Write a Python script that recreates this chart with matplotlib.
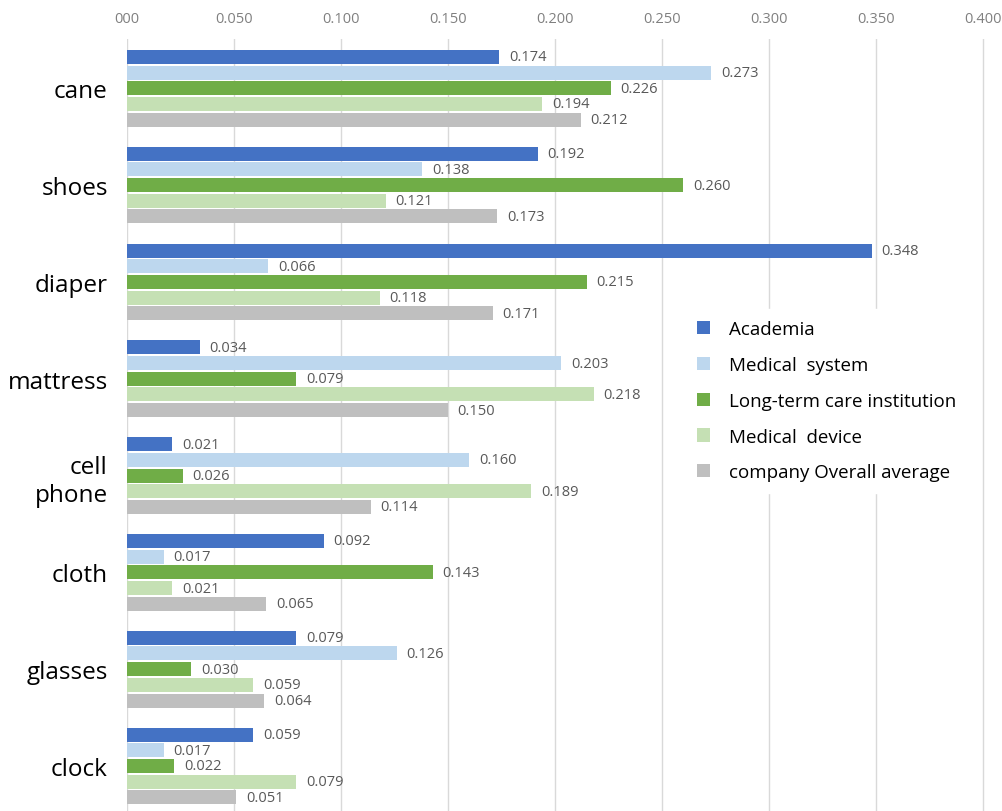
import numpy as np
import matplotlib.pyplot as plt

plt.rcParams['font.family'] = ['Open Sans', 'DejaVu Sans']

categories = ['cane', 'shoes', 'diaper', 'mattress', 'cell\nphone', 'cloth', 'glasses', 'clock']
series = ['Academia', 'Medical  system', 'Long-term care institution',
          'Medical  device', 'company Overall average']
academia = [0.174, 0.192, 0.348, 0.034, 0.021, 0.092, 0.079, 0.059]
medical_system = [0.273, 0.138, 0.066, 0.203, 0.160, 0.017, 0.126, 0.017]
long_term_care = [0.226, 0.260, 0.215, 0.079, 0.026, 0.143, 0.030, 0.022]
medical_device = [0.194, 0.121, 0.118, 0.218, 0.189, 0.021, 0.059, 0.079]
overall_avg = [0.212, 0.173, 0.171, 0.150, 0.114, 0.065, 0.064, 0.051]
tick_vals = [0.0, 0.05, 0.1, 0.15, 0.2, 0.25, 0.3, 0.35, 0.4]
tick_labels = ['000', '0.050', '0.100', '0.150', '0.200', '0.250', '0.300', '0.350', '0.400']

colors = ['#4472C4', '#BDD7EE', '#70AD47', '#C5E0B4', '#BFBFBF']
values = [academia, medical_system, long_term_care, medical_device, overall_avg]

fig = plt.figure(figsize=(10.02, 8.12), dpi=100)
ax = fig.add_axes([0.127, 0.0, 0.873, 0.951])

y = np.arange(len(categories))
step = 0.162
height = 0.145
for j, (vals, col, name) in enumerate(zip(values, colors, series)):
    pos = y + (j - 2) * step
    ax.barh(pos, vals, height=height, color=col, label=name, zorder=2)
    for p, v in zip(pos, vals):
        ax.text(v + 0.0045, p, '%.3f' % v, va='center', ha='left',
                fontsize=10.5, color='#595959', zorder=3)

ax.set_xlim(0, 0.409)
ax.set_ylim(7.465, -0.511)
ax.xaxis.tick_top()
ax.set_xticks(tick_vals)
ax.set_xticklabels(tick_labels, fontsize=10.5, color='#808080')
ax.tick_params(axis='x', length=0, pad=9)
ax.set_yticks(y)
ax.set_yticklabels(categories, fontsize=17.5, color='black', linespacing=1.25)
ax.tick_params(axis='y', length=0, pad=14)
ax.grid(axis='x', color='#D9D9D9', linewidth=1, zorder=0)
ax.set_axisbelow(True)
for s in ax.spines.values():
    s.set_visible(False)

leg = fig.legend(loc='upper left', bbox_to_anchor=(0.675, 0.63), frameon=True,
                 fontsize=13.5, handlelength=0.7, handleheight=0.7,
                 handletextpad=1.0, labelspacing=0.95, borderpad=0.6)
leg.get_frame().set_edgecolor('white')
leg.get_frame().set_facecolor('white')
leg.get_frame().set_alpha(1)

fig.savefig('out.png', dpi=100)
